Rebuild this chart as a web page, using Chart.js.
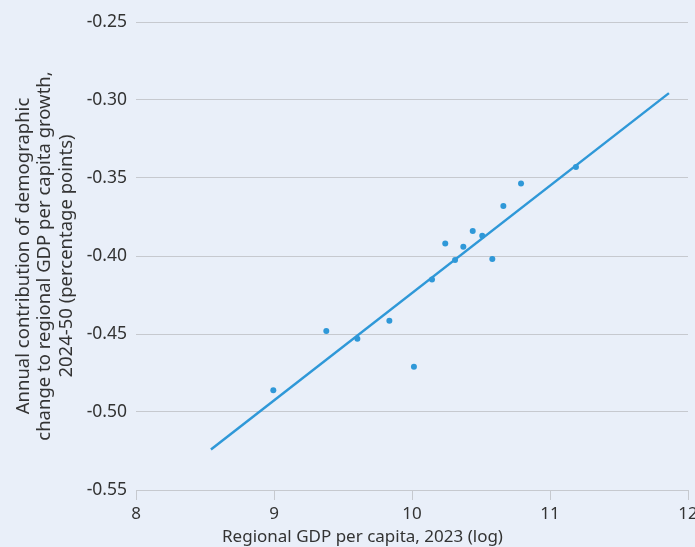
<!DOCTYPE html>
<html>
<head>
<meta charset="utf-8">
<script src="https://cdn.jsdelivr.net/npm/chart.js"></script>
<style>
  html, body { margin: 0; padding: 0; background: #e9eff9; }
  canvas { display: block; }
</style>
</head>
<body>
<canvas id="chart" width="695" height="547"></canvas>
<script>
const gdpLog = [8.995, 9.379, 9.604, 9.836, 10.014, 10.145, 10.241, 10.312, 10.372, 10.440, 10.509, 10.582, 10.662, 10.790, 11.188];
const demoContribution = [-0.486, -0.448, -0.453, -0.4415, -0.471, -0.415, -0.392, -0.4025, -0.394, -0.384, -0.387, -0.402, -0.368, -0.3535, -0.343];
const fitX = [8.543, 11.862];
const fitY = [-0.524, -0.2956];
const xTicks = [8, 9, 10, 11, 12];
const yTicks = [-0.55, -0.50, -0.45, -0.40, -0.35, -0.30, -0.25];

const blue = '#2f98d8';
const textColor = '#333333';
const gridColor = '#c6c9cf';

Chart.defaults.font.family = '"Noto Sans", "Open Sans", sans-serif';
Chart.defaults.color = textColor;

new Chart(document.getElementById('chart'), {
  type: 'scatter',
  data: {
    datasets: [
      {
        label: 'Regions',
        data: gdpLog.map((x, i) => ({ x: x, y: demoContribution[i] })),
        backgroundColor: blue,
        borderWidth: 0,
        pointRadius: 3,
      },
      {
        label: 'Fit',
        data: fitX.map((x, i) => ({ x: x, y: fitY[i] })),
        showLine: true,
        borderColor: blue,
        borderWidth: 2.5,
        pointRadius: 0,
      },
    ],
  },
  options: {
    responsive: false,
    animation: false,
    devicePixelRatio: 1,
    layout: { padding: { top: 22, right: 7, left: 37, bottom: 0 } },
    plugins: {
      legend: { display: false },
      tooltip: { enabled: false },
      // x axis title, centred like the reference (a little left of the plot centre)
      title: {
        display: true,
        position: 'bottom',
        text: 'Regional GDP per capita, 2023 (log)',
        font: { size: 17, weight: 'normal' },
        color: textColor,
        padding: { top: 0, bottom: 0 },
      },
    },
    scales: {
      x: {
        type: 'linear',
        min: 8,
        max: 12,
        afterBuildTicks: scale => { scale.ticks = xTicks.map(v => ({ value: v })); },
        afterFit: scale => {
          scale.height = 36.6;
          scale.paddingLeft = 0;
          scale.paddingRight = 0;
        },
        grid: {
          drawOnChartArea: false,
          drawTicks: true,
          tickLength: 10,
          color: gridColor,
        },
        border: { display: true, color: gridColor },
        ticks: { font: { size: 17 }, padding: 4, color: textColor, autoSkip: false, maxRotation: 0 },
      },
      y: {
        type: 'linear',
        min: -0.55,
        max: -0.25,
        afterBuildTicks: scale => { scale.ticks = yTicks.map(v => ({ value: v })); },
        afterFit: scale => { scale.width = 99; },
        grid: {
          drawTicks: false,
          color: gridColor,
        },
        border: { display: false },
        ticks: {
          font: { size: 17.5 },
          padding: 9,
          color: textColor,
          autoSkip: false,
          callback: v => v.toFixed(2),
        },
        title: {
          display: true,
          text: ['Annual contribution of demographic', 'change to regional GDP per capita growth,', '2024-50 (percentage points)'],
          font: { size: 18.5, lineHeight: 1.16 },
          padding: { top: -24, bottom: 0 },
          color: textColor,
        },
      },
    },
  },
});
</script>
</body>
</html>
